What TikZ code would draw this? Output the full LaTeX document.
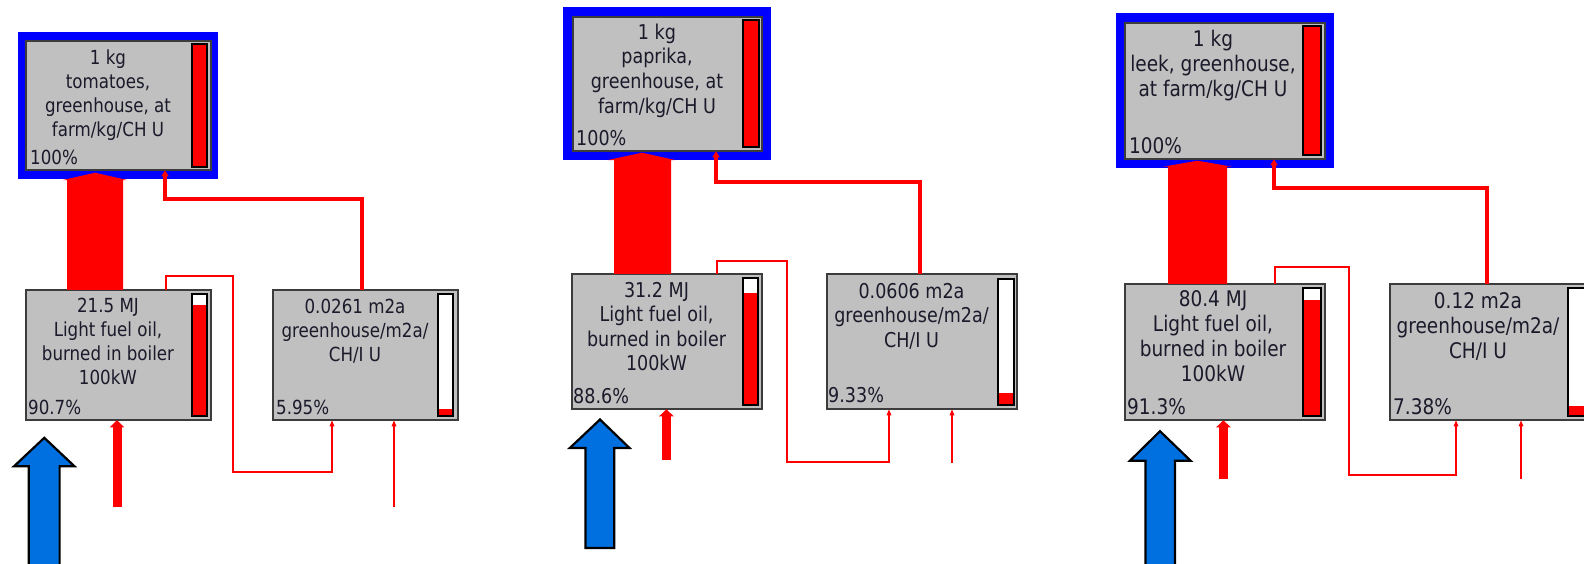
\documentclass[tikz,border=0pt]{standalone}
\usepackage{fontspec}
\setmainfont{DejaVu Sans}[FakeStretch=0.86]
\usetikzlibrary{arrows.meta}
\definecolor{boxgray}{HTML}{C0C0C0}
\definecolor{boxedge}{HTML}{3C3C3C}
\definecolor{flowred}{HTML}{FF0000}
\definecolor{frameblue}{HTML}{0000FF}
\definecolor{inblue}{HTML}{0070E0}
\definecolor{txtc}{HTML}{1A1A2A}
\newcommand\redbar[2]{%
  \fill[flowred] (#1.south west) rectangle (#1.east |- 0,#2);
  \draw[barline] (#1.south west) rectangle (#1.north east);}
\begin{document}
\begin{tikzpicture}[x=1pt,y=-1pt,
  grayb/.style={draw=boxedge, fill=boxgray, line width=1.6pt, inner sep=0pt, outer sep=0pt},
  frameb/.style={fill=frameblue, inner sep=0pt, outer sep=0pt},
  barb/.style={draw=black, fill=white, line width=1.6pt, inner sep=0pt, outer sep=0pt},
  fullbar/.style={barb, fill=flowred},
  barline/.style={draw=black, line width=1.6pt},
  lab/.style={anchor=north, align=center, inner sep=0pt, text=txtc},
  pct/.style={anchor=base west, inner sep=0pt, text=txtc},
  fsa/.style={font=\fontsize{19.4pt}{24pt}\selectfont},
  fsb/.style={font=\fontsize{20.4pt}{24.6pt}\selectfont},
  fsc/.style={font=\fontsize{21.5pt}{25pt}\selectfont},
  medline/.style={draw=flowred, line width=3.2pt, -{Triangle[width=7pt,length=6pt]}},
  thinline/.style={draw=flowred, line width=1.3pt, -{Triangle[width=4.5pt,length=6pt]}},
  fatline/.style={draw=flowred, line width=9pt, -{Triangle[width=14pt,length=7pt]}},
  bigflow/.style={fill=flowred},
  inarrow/.style={fill=inblue, draw=black, line width=2.2pt, line join=miter},
]
\useasboundingbox (0,0) rectangle (1584,563);

% ================= Panel 1 =================
\node[frameb, minimum width=200pt, minimum height=147pt] (p1f) at (118,105.5) {};
\node[grayb, minimum width=185.5pt, minimum height=129.5pt] (p1a) at (118.5,105.5) {};
\node[fullbar, minimum width=15.5pt, minimum height=123.5pt] (p1abar) at (199.5,105.5) {};
\node[grayb, minimum width=185.5pt, minimum height=130.5pt] (p1b) at (118.5,355) {};
\node[barb, minimum width=15.5pt, minimum height=122.5pt] (p1bbar) at (199.5,355) {};
\redbar{p1bbar}{305}
\node[grayb, minimum width=185.5pt, minimum height=130.5pt] (p1c) at (365.5,355) {};
\node[barb, minimum width=15.5pt, minimum height=122.5pt] (p1cbar) at (445.5,355) {};
\redbar{p1cbar}{409}

\node[lab, fsa] (p1at) at (108,46.8) {\rule{0pt}{17pt}1 kg\\tomatoes,\\greenhouse, at\\farm/kg/CH U};
\node[pct, fsa] (p1ap) at (30,164) {100\%};
\node[lab, fsa] (p1bt) at (108,294.8) {\rule{0pt}{17pt}21.5 MJ\\Light fuel oil,\\burned in boiler\\100kW};
\node[pct, fsa] (p1bp) at (28,414) {90.7\%};
\node[lab, fsa] (p1ct) at (355,296.5) {\rule{0pt}{17pt}0.0261 m2a\\greenhouse/m2a/\\CH/I U};
\node[pct, fsa] (p1cp) at (276,414) {5.95\%};

\fill[bigflow] (p1b.north -| 67,0) -- (67,180) -- (63,180) -- (95,172.7) -- (127,180) -- (123,180) -- (p1b.north -| 123,0) -- cycle;
\draw[medline] (p1c.north -| 362,0) |- (165,199) -- (p1a.south -| 165,0);
\draw[thinline] (p1b.north -| 166,0) |- (233,276) |- (332,472) -- (p1c.south -| 332,0);
\coordinate (p1in1) at (394,507);
\draw[thinline] (p1in1) -- (p1c.south -| 394,0);
\coordinate (p1in2) at (117,507);
\draw[fatline] (p1in2) -- (p1b.south -| 117,0);
\draw[inarrow] (44.3,437.8) -- (74.5,466.3) -- (59.6,466.3) -- (59.6,575) -- (28.8,575) -- (28.8,466.3) -- (14,466.3) -- cycle;

% ================= Panel 2 =================
\node[frameb, minimum width=208pt, minimum height=153pt] (p2f) at (667,83.5) {};
\node[grayb, minimum width=189.5pt, minimum height=134.5pt] (p2a) at (667.5,84) {};
\node[fullbar, minimum width=16.5pt, minimum height=127.5pt] (p2abar) at (751,83.5) {};
\node[grayb, minimum width=190.5pt, minimum height=135.5pt] (p2b) at (667,341.5) {};
\node[barb, minimum width=15.5pt, minimum height=127.5pt] (p2bbar) at (750.5,341.5) {};
\redbar{p2bbar}{293}
\node[grayb, minimum width=190.5pt, minimum height=135.5pt] (p2c) at (922,341.5) {};
\node[barb, minimum width=16.5pt, minimum height=126.5pt] (p2cbar) at (1006,342) {};
\redbar{p2cbar}{393}

\node[lab, fsb] (p2at) at (657,22.1) {\rule{0pt}{17pt}1 kg\\paprika,\\greenhouse, at\\farm/kg/CH U};
\node[pct, fsb] (p2ap) at (576,145) {100\%};
\node[lab, fsb] (p2bt) at (656.5,279.8) {\rule{0pt}{17pt}31.2 MJ\\Light fuel oil,\\burned in boiler\\100kW};
\node[pct, fsb] (p2bp) at (573,403) {88.6\%};
\node[lab, fsb] (p2ct) at (911.5,280.8) {\rule{0pt}{17pt}0.0606 m2a\\greenhouse/m2a/\\CH/I U};
\node[pct, fsb] (p2cp) at (828,402) {9.33\%};

\fill[bigflow] (p2b.north -| 614,0) -- (614,160) -- (608,160) -- (642,152.7) -- (675,160) -- (671,160) -- (p2b.north -| 671,0) -- cycle;
\draw[medline] (p2c.north -| 920,0) |- (716,182) -- (p2a.south -| 716,0);
\draw[thinline] (p2b.north -| 717,0) |- (787,261) |- (889,462) -- (p2c.south -| 889,0);
\coordinate (p2in1) at (952,463);
\draw[thinline] (p2in1) -- (p2c.south -| 952,0);
\coordinate (p2in2) at (666.4,460);
\draw[fatline] (p2in2) -- (p2b.south -| 666.4,0);
\draw[inarrow] (600,419.5) -- (629.5,448) -- (614.2,448) -- (614.2,548) -- (585.4,548) -- (585.4,448) -- (569.8,448) -- cycle;

% ================= Panel 3 =================
\node[frameb, minimum width=218pt, minimum height=155pt] (p3f) at (1225,90.5) {};
\node[grayb, minimum width=200.5pt, minimum height=136.5pt] (p3a) at (1225,91) {};
\node[fullbar, minimum width=18.5pt, minimum height=129.5pt] (p3abar) at (1312,90.5) {};
\node[grayb, minimum width=200.5pt, minimum height=136.5pt] (p3b) at (1225,352) {};
\node[barb, minimum width=18.5pt, minimum height=128.5pt] (p3bbar) at (1312,352) {};
\redbar{p3bbar}{300}
\node[grayb, minimum width=200.5pt, minimum height=136.5pt] (p3c) at (1490,352) {};
\node[barb, minimum width=18.5pt, minimum height=128.5pt] (p3cbar) at (1577,352) {};
\redbar{p3cbar}{406}

\node[lab, fsc] (p3at) at (1213,28.8) {\rule{0pt}{17pt}1 kg\\leek, greenhouse,\\at farm/kg/CH U};
\node[pct, fsc] (p3ap) at (1129,153) {100\%};
\node[lab, fsc] (p3bt) at (1213,289.5) {\rule{0pt}{17pt}80.4 MJ\\Light fuel oil,\\burned in boiler\\100kW};
\node[pct, fsc] (p3bp) at (1127,414) {91.3\%};
\node[lab, fsc] (p3ct) at (1478,291.2) {\rule{0pt}{17pt}0.12 m2a\\greenhouse/m2a/\\CH/I U};
\node[pct, fsc] (p3cp) at (1393,414) {7.38\%};

\fill[bigflow] (p3b.north -| 1168,0) -- (1168,166.7) -- (1163,166.7) -- (1197.5,160.7) -- (1232,166.7) -- (1227,166.7) -- (p3b.north -| 1227,0) -- cycle;
\draw[medline] (p3c.north -| 1487,0) |- (1274,188) -- (p3a.south -| 1274,0);
\draw[thinline] (p3b.north -| 1275,0) |- (1349,267) |- (1456,475) -- (p3c.south -| 1456,0);
\coordinate (p3in1) at (1521,479);
\draw[thinline] (p3in1) -- (p3c.south -| 1521,0);
\coordinate (p3in2) at (1223.4,479);
\draw[fatline] (p3in2) -- (p3b.south -| 1223.4,0);
\draw[inarrow] (1160,431.2) -- (1190.6,460.7) -- (1175,460.7) -- (1175,575) -- (1145.4,575) -- (1145.4,460.7) -- (1130,460.7) -- cycle;
\end{tikzpicture}
\end{document}
